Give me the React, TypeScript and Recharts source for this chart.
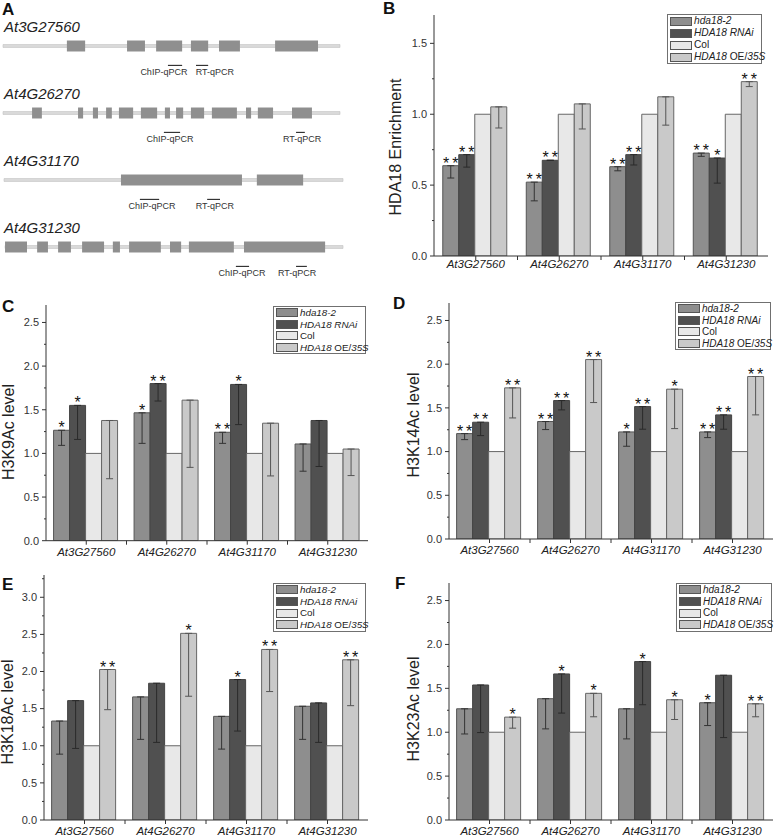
import React from 'react';
import {
  BarChart, Bar, XAxis, YAxis, ErrorBar, LabelList, Legend,
  ComposedChart, Scatter, ReferenceArea, ReferenceLine,
} from 'recharts';

const FONT = 'Arial, "Liberation Sans", Helvetica, sans-serif';

// ---------- shared categories / series ----------
const genes = ['At3G27560', 'At4G26270', 'At4G31170', 'At4G31230'];
const seriesNames = ['hda18-2', 'HDA18 RNAi', 'Col', 'HDA18 OE/35S'];
const seriesColors = ['#8e8e8e', '#505050', '#e8e8e8', '#c9c9c9'];
const colValues = [1, 1, 1, 1];

// ---------- Panel A : gene structures (position in % of gene diagram length) ----------
const intronSpans = [[0, 99.7], [0, 99.7], [0.3, 100.6], [0.6, 100.6]];
const exonsAt3G27560 = [[18.9, 24.3], [36.7, 42.0], [45.3, 53.0], [55.6, 60.7], [63.9, 70.1], [80.5, 93.2]];
const exonsAt4G26270 = [[8.6, 11.5], [22.2, 23.7], [26.6, 28.1], [30.5, 32.2], [34.3, 38.5], [40.8, 45.6], [47.9, 49.4], [51.2, 53.3], [55.6, 59.5], [61.8, 69.2], [71.9, 73.4], [75.4, 79.9], [85.5, 91.4]];
const exonsAt4G31170 = [[34.9, 70.7], [75.1, 88.8]];
const exonsAt4G31230 = [[0.6, 7.1], [10.1, 13.3], [16.3, 20.1], [23.4, 29.9], [32.5, 34.6], [37.3, 46.7], [49.4, 52.7], [55.0, 68.3], [71.3, 95.3]];
const geneExons = [exonsAt3G27560, exonsAt4G26270, exonsAt4G31170, exonsAt4G31230];
const primerLabels = ['ChIP-qPCR', 'RT-qPCR'];
const primerTextPos = [[47.6, 62.7], [49.4, 88.5], [44.1, 62.7], [70.7, 87.0]];
const primerMarks = [
  [[48.8, 53.0], [57.1, 60.7]],
  [[47.6, 52.4], [86.7, 89.3]],
  [[40.5, 46.2], [60.4, 64.2]],
  [[68.9, 72.8], [86.7, 89.9]],
];

// ---------- Panel B : HDA18 enrichment ----------
const bHda = [0.637, 0.521, 0.63, 0.726];
const bHdaErr = [0.087, 0.132, 0.029, 0.023];
const bRnai = [0.715, 0.675, 0.715, 0.691];
const bRnaiErr = [0.088, 0, 0.073, 0.177];
const bOe = [1.052, 1.073, 1.123, 1.23];
const bOeErr = [0.149, 0.177, 0.2, 0.035];
const bHdaStars = ['**', '**', '**', '**'];
const bRnaiStars = ['**', '**', '**', '*'];
const bOeStars = ['', '', '', '**'];

// ---------- Panel C : H3K9Ac ----------
const cHda = [1.265, 1.465, 1.242, 1.108];
const cHdaErr = [0.173, 0.35, 0.127, 0.312];
const cRnai = [1.55, 1.8, 1.79, 1.377];
const cRnaiErr = [0.39, 0.2, 0.46, 0.527];
const cOe = [1.377, 1.61, 1.346, 1.05];
const cOeErr = [0.667, 0.77, 0.604, 0.304];
const cHdaStars = ['*', '*', '**', ''];
const cRnaiStars = ['*', '**', '*', ''];
const cOeStars = ['', '', '', ''];

// ---------- Panel D : H3K14Ac ----------
const dHda = [1.206, 1.344, 1.225, 1.225];
const dHdaErr = [0.069, 0.092, 0.164, 0.065];
const dRnai = [1.336, 1.584, 1.515, 1.42];
const dRnaiErr = [0.153, 0.107, 0.259, 0.164];
const dOe = [1.729, 2.053, 1.714, 1.859];
const dOeErr = [0.344, 0.492, 0.451, 0.439];
const dHdaStars = ['**', '**', '*', '**'];
const dRnaiStars = ['**', '**', '**', '**'];
const dOeStars = ['**', '**', '*', '**'];

// ---------- Panel E : H3K18Ac ----------
const eHda = [1.333, 1.658, 1.396, 1.532];
const eHdaErr = [0.446, 0.572, 0.441, 0.446];
const eRnai = [1.608, 1.842, 1.892, 1.577];
const eRnaiErr = [0.644, 0.797, 0.694, 0.532];
const eOe = [2.027, 2.514, 2.297, 2.158];
const eOeErr = [0.541, 0.847, 0.567, 0.618];
const eHdaStars = ['', '', '', ''];
const eRnaiStars = ['', '', '*', ''];
const eOeStars = ['**', '*', '**', '**'];

// ---------- Panel F : H3K23Ac ----------
const fHda = [1.267, 1.382, 1.267, 1.336];
const fHdaErr = [0.287, 0.344, 0.343, 0.26];
const fRnai = [1.538, 1.664, 1.805, 1.649];
const fRnaiErr = [0.542, 0.446, 0.492, 0.71];
const fOe = [1.172, 1.443, 1.37, 1.324];
const fOeErr = [0.126, 0.267, 0.225, 0.148];
const fHdaStars = ['', '', '', '*'];
const fRnaiStars = ['', '*', '*', ''];
const fOeStars = ['*', '*', '*', '**'];

function buildRows(hda, hdaErr, rnai, rnaiErr, oe, oeErr, hs, rs, os) {
  return genes.map((g, i) => ({
    gene: g,
    hda: hda[i], hdaE: [hdaErr[i], 0], hdaS: hs[i],
    rnai: rnai[i], rnaiE: [rnaiErr[i], 0], rnaiS: rs[i],
    col: colValues[i],
    oe: oe[i], oeE: [oeErr[i], 0], oeS: os[i],
  }));
}

const rowsB = buildRows(bHda, bHdaErr, bRnai, bRnaiErr, bOe, bOeErr, bHdaStars, bRnaiStars, bOeStars);
const rowsC = buildRows(cHda, cHdaErr, cRnai, cRnaiErr, cOe, cOeErr, cHdaStars, cRnaiStars, cOeStars);
const rowsD = buildRows(dHda, dHdaErr, dRnai, dRnaiErr, dOe, dOeErr, dHdaStars, dRnaiStars, dOeStars);
const rowsE = buildRows(eHda, eHdaErr, eRnai, eRnaiErr, eOe, eOeErr, eHdaStars, eRnaiStars, eOeStars);
const rowsF = buildRows(fHda, fHdaErr, fRnai, fRnaiErr, fOe, fOeErr, fHdaStars, fRnaiStars, fOeStars);

function makeTicks(max) {
  const t = [];
  for (let v = 0; v <= max + 1e-9; v += 0.25) t.push(Math.round(v * 100) / 100);
  return t;
}

// ---------- render helpers ----------
const YTick = (props) => {
  const { x, y, payload } = props;
  const v = payload.value;
  const major = Math.abs(v * 2 - Math.round(v * 2)) < 1e-6;
  const ax = x + 7;
  return (
    <g>
      <line x1={ax - (major ? 4 : 2)} x2={ax} y1={y} y2={y} stroke="#333" strokeWidth={1} />
      {major && (
        <text x={x} y={y} dy="0.35em" textAnchor="end" fontSize={11} fill="#333" fontFamily={FONT}>
          {v.toFixed(1)}
        </text>
      )}
    </g>
  );
};

const XTick = (props) => {
  const { x, y, payload, index, band, labelDy } = props;
  const axisY = y - 6;
  return (
    <g>
      <line x1={x} x2={x} y1={axisY} y2={axisY + 4} stroke="#333" strokeWidth={1} />
      {index > 0 && (
        <line x1={x - band / 2} x2={x - band / 2} y1={axisY} y2={axisY + 4} stroke="#333" strokeWidth={1} />
      )}
      <text x={x} y={y + labelDy} textAnchor="middle" fontStyle="italic" fontSize={11.5} fill="#222" fontFamily={FONT}>
        {payload.value}
      </text>
    </g>
  );
};

const starLabel = (props) => {
  const { x, y, width, value } = props;
  if (!value) return null;
  const shift = value.length > 1 ? 1.5 : 0;
  return (
    <text
      x={x + width / 2 + shift}
      y={y + 3}
      textAnchor="middle"
      fontSize={16}
      fill="#111"
      fontFamily={FONT}
      letterSpacing={value.length > 1 ? 3 : 0}
    >
      {value}
    </text>
  );
};

const legendLabel = (i) => {
  if (i === 0) return <i>{seriesNames[0]}</i>;
  if (i === 1) return <i>{seriesNames[1]}</i>;
  if (i === 2) return <span>{seriesNames[2]}</span>;
  const parts = seriesNames[3].split(' ');
  const [oe, s35] = parts[1].split('/');
  return (
    <span>
      <i>{parts[0]}</i> {oe}/<i>{s35}</i>
    </span>
  );
};

const LegendBox = ({ boxWidth, rowH, fontSize }) => (
  <div
    style={{
      border: '1px solid #707070',
      background: '#fff',
      width: boxWidth - 2,
      boxSizing: 'border-box',
      padding: '0 0 0 2px',
      fontFamily: FONT,
      fontSize,
      color: '#222',
      lineHeight: `${rowH}px`,
      textAlign: 'left',
    }}
  >
    {seriesNames.map((n, i) => (
      <div key={n} style={{ display: 'flex', alignItems: 'center', height: rowH, whiteSpace: 'nowrap' }}>
        <span
          style={{
            display: 'inline-block',
            width: 20,
            height: 7,
            background: seriesColors[i],
            border: '1px solid #555',
            marginRight: 2,
            flex: 'none',
          }}
        />
        {legendLabel(i)}
      </div>
    ))}
  </div>
);

function BarPanel({ rows, letter, letterPos, title, titlePos, domainMax, width, height, margin, xAxisHeight, gap, legend, labelDy }) {
  const plotW = width - margin.left - margin.right - 40;
  const band = plotW / genes.length;
  const titleContent = () => (
    <g>
      <text x={letterPos[0]} y={letterPos[1]} fontSize={17} fontWeight="bold" fill="#111" fontFamily={FONT}>
        {letter}
      </text>
      <text
        x={titlePos[0]}
        y={titlePos[1]}
        transform={`rotate(-90, ${titlePos[0]}, ${titlePos[1]})`}
        textAnchor="middle"
        dominantBaseline="central"
        fontSize={16}
        fill="#222"
        fontFamily={FONT}
      >
        {title}
      </text>
    </g>
  );
  return (
    <BarChart width={width} height={height} data={rows} margin={margin} barCategoryGap={gap} barGap={0}>
      <XAxis
        dataKey="gene"
        height={xAxisHeight}
        axisLine={{ stroke: '#333' }}
        tickLine={false}
        tickSize={4}
        tickMargin={2}
        interval={0}
        tick={<XTick band={band} labelDy={labelDy} />}
      />
      <YAxis
        width={40}
        domain={[0, domainMax]}
        ticks={makeTicks(domainMax)}
        interval={0}
        axisLine={{ stroke: '#333' }}
        tickLine={false}
        tickSize={4}
        tickMargin={3}
        tick={<YTick />}
        allowDataOverflow
        label={{ content: titleContent }}
      />
      <Legend
        layout="vertical"
        align="center"
        verticalAlign="middle"
        wrapperStyle={{ left: legend.left, top: legend.top, width: legend.width, height: legend.rowH * 4 + 2 }}
        content={<LegendBox boxWidth={legend.width} rowH={legend.rowH} fontSize={legend.fontSize} />}
      />
      <Bar dataKey="hda" name={seriesNames[0]} fill={seriesColors[0]} stroke="#555" strokeWidth={1} isAnimationActive={false}>
        <ErrorBar dataKey="hdaE" width={3.5} stroke="#333" strokeWidth={1} direction="y" />
        <LabelList dataKey="hdaS" content={starLabel} />
      </Bar>
      <Bar dataKey="rnai" name={seriesNames[1]} fill={seriesColors[1]} stroke="#444" strokeWidth={1} isAnimationActive={false}>
        <ErrorBar dataKey="rnaiE" width={3.5} stroke="#2a2a2a" strokeWidth={1} direction="y" />
        <LabelList dataKey="rnaiS" content={starLabel} />
      </Bar>
      <Bar dataKey="col" name={seriesNames[2]} fill={seriesColors[2]} stroke="#666" strokeWidth={1} isAnimationActive={false} />
      <Bar dataKey="oe" name={seriesNames[3]} fill={seriesColors[3]} stroke="#666" strokeWidth={1} isAnimationActive={false}>
        <ErrorBar dataKey="oeE" width={3.5} stroke="#555" strokeWidth={1} direction="y" />
        <LabelList dataKey="oeS" content={starLabel} />
      </Bar>
    </BarChart>
  );
}

// ---------- Panel A ----------
const panelLetterPoint = [{ x: 0, y: 0, label: 'A' }];
const geneNamePoints = genes.map((g, i) => ({ x: 0, y: i + 0.5, label: g }));
const primerPoints = [];
primerTextPos.forEach((pair, i) => {
  pair.forEach((px, j) => primerPoints.push({ x: px, y: i + 0.5, label: primerLabels[j] }));
});

const LetterShape = (props) => {
  const { cx, cy, payload } = props;
  return (
    <text x={cx - 1} y={cy + 2.5} fontSize={17} fontWeight="bold" fill="#111" fontFamily={FONT}>
      {payload.label}
    </text>
  );
};

const GeneNameShape = (props) => {
  const { cx, cy, payload } = props;
  return (
    <text x={cx + 1} y={cy - 14} fontSize={15} fontStyle="italic" fill="#222" fontFamily={FONT}>
      {payload.label}
    </text>
  );
};

const PrimerShape = (props) => {
  const { cx, cy, payload } = props;
  return (
    <text x={cx} y={cy + 26} dy="0.35em" textAnchor="middle" fontSize={9} fill="#333" fontFamily={FONT}>
      {payload.label}
    </text>
  );
};

function GenePanel() {
  return (
    <ComposedChart width={380} height={281} margin={{ top: 12.5, right: 39, bottom: 0.5, left: 3 }}>
      <XAxis type="number" dataKey="x" domain={[0, 100]} hide />
      <YAxis type="number" dataKey="y" domain={[0, 4]} reversed hide />
      {intronSpans.map((s, i) => (
        <ReferenceArea
          key={`in${i}`}
          x1={s[0]}
          x2={s[1]}
          y1={i + 0.5 - 0.022}
          y2={i + 0.5 + 0.022}
          fill="#dadada"
          fillOpacity={1}
          stroke="#c2c2c2"
          strokeWidth={0.6}
          ifOverflow="visible"
        />
      ))}
      {geneExons.map((ex, i) =>
        ex.map((e, k) => (
          <ReferenceArea
            key={`ex${i}-${k}`}
            x1={e[0]}
            x2={e[1]}
            y1={i + 0.5 - 0.082}
            y2={i + 0.5 + 0.082}
            fill="#8f8f8f"
            fillOpacity={1}
            stroke="none"
            ifOverflow="visible"
          />
        ))
      )}
      {primerMarks.map((pair, i) =>
        pair.map((m, j) => (
          <ReferenceLine
            key={`pm${i}-${j}`}
            segment={[{ x: m[0], y: i + 0.5 + 0.29 }, { x: m[1], y: i + 0.5 + 0.29 }]}
            stroke="#333"
            strokeWidth={1.2}
            ifOverflow="visible"
          />
        ))
      )}
      <Scatter data={panelLetterPoint} shape={<LetterShape />} isAnimationActive={false} />
      <Scatter data={geneNamePoints} shape={<GeneNameShape />} isAnimationActive={false} />
      <Scatter data={primerPoints} shape={<PrimerShape />} isAnimationActive={false} />
    </ComposedChart>
  );
}

export default function App() {
  const abs = (left, top) => ({ position: 'absolute' as const, left, top });
  return (
    <div style={{ position: 'absolute', left: 0, top: 0, width: 774, height: 839, background: '#fff', fontFamily: FONT }}>
      <div style={abs(0, 0)}>
        <GenePanel />
      </div>
      <div style={abs(380, 0)}>
        <BarPanel
          rows={rowsB}
          letter="B"
          letterPos={[3, 14]}
          title="HDA18 Enrichment"
          titlePos={[15, 147]}
          domainMax={1.7}
          width={394}
          height={285}
          margin={{ top: 15, right: 6, bottom: 4, left: 14 }}
          xAxisHeight={25}
          gap="10.5%"
          legend={{ left: 287, top: 14, width: 97, rowH: 12, fontSize: 10.2 }}
          labelDy={6}
        />
      </div>
      <div style={abs(0, 280)}>
        <BarPanel
          rows={rowsC}
          letter="C"
          letterPos={[2, 32]}
          title="H3K9Ac level"
          titlePos={[8, 152]}
          domainMax={2.7}
          width={380}
          height={285}
          margin={{ top: 25, right: 12, bottom: 4.3, left: 6 }}
          xAxisHeight={20}
          gap="9.4%"
          legend={{ left: 273, top: 26, width: 95, rowH: 11.5, fontSize: 9.8 }}
          labelDy={9}
        />
      </div>
      <div style={abs(380, 280)}>
        <BarPanel
          rows={rowsD}
          letter="D"
          letterPos={[13, 29]}
          title="H3K14Ac level"
          titlePos={[33, 145]}
          domainMax={2.7}
          width={394}
          height={285}
          margin={{ top: 23, right: 1, bottom: 4, left: 29 }}
          xAxisHeight={22}
          gap="9.4%"
          legend={{ left: 295, top: 22, width: 98, rowH: 11.5, fontSize: 10 }}
          labelDy={9}
        />
      </div>
      <div style={abs(0, 560)}>
        <BarPanel
          rows={rowsE}
          letter="E"
          letterPos={[2, 30]}
          title="H3K18Ac level"
          titlePos={[7, 152]}
          domainMax={3.3}
          width={380}
          height={279}
          margin={{ top: 15, right: 12, bottom: 0, left: 4 }}
          xAxisHeight={19}
          gap="9.4%"
          legend={{ left: 273, top: 23, width: 95, rowH: 11.7, fontSize: 9.8 }}
          labelDy={9}
        />
      </div>
      <div style={abs(380, 560)}>
        <BarPanel
          rows={rowsF}
          letter="F"
          letterPos={[15, 29]}
          title="H3K23Ac level"
          titlePos={[33, 149]}
          domainMax={2.7}
          width={394}
          height={279}
          margin={{ top: 23, right: 1, bottom: 0, left: 29 }}
          xAxisHeight={19}
          gap="9.4%"
          legend={{ left: 296, top: 23, width: 98, rowH: 11.7, fontSize: 10 }}
          labelDy={9}
        />
      </div>
    </div>
  );
}
